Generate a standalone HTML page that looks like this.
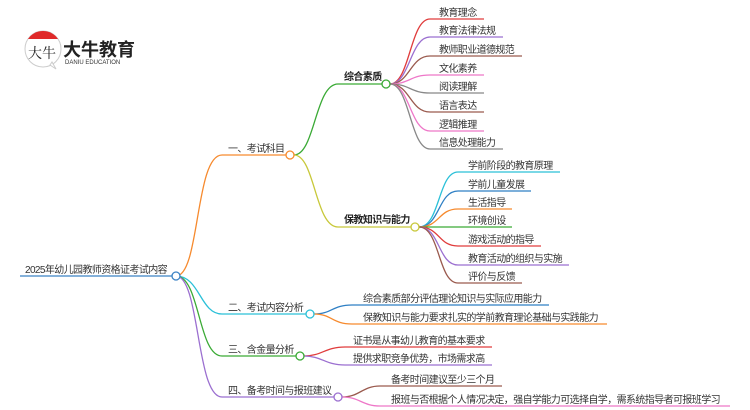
<!DOCTYPE html>
<html><head><meta charset="utf-8"><style>
html,body{margin:0;padding:0;background:#fff;}
svg{display:block;}
text{font-family:"Liberation Sans","Noto Sans CJK SC",sans-serif;font-size:10px;letter-spacing:-0.6px;fill:#333;}
.b{font-weight:bold;fill:#222;}
</style></head><body>
<svg width="750" height="410" viewBox="0 0 750 410" xmlns="http://www.w3.org/2000/svg">
<circle cx="43" cy="49" r="18" fill="#fff" stroke="#ccc" stroke-width="1"/>
<path d="M28 39 A18 18 0 0 1 58 39 Z" fill="#e02a2a"/>
<path d="M50 65 L56 69 L52 62 Z" fill="#fff" stroke="#ccc"/>
<text x="28" y="58" style="font-size:14px;letter-spacing:0;fill:#222;font-family:'Noto Serif CJK SC',serif">大牛</text>
<text x="63" y="56" style="font-size:18px;letter-spacing:0;font-weight:bold;fill:#222">大牛教育</text>
<text x="65" y="64" style="font-size:6px;letter-spacing:0;fill:#333">DANIU EDUCATION</text>

<g fill="none" stroke-width="1.3">
<path d="M20 276 H172" stroke="#3b82c4"/>
<path d="M176 276 C200 276,195 155,222 155 H286" stroke="#f68a2e"/>
<path d="M294 155 C315 155,315 84,338 84 H382" stroke="#3aaa35"/>
<path d="M294 155 C315 155,315 227,338 227 H411" stroke="#c8c83a"/>
<g>
<path d="M390 84 C410 84,410 19,430 19 H484" stroke="#e03c3c"/>
<path d="M390 84 C410 84,410 37,430 37 H503" stroke="#9b6fd0"/>
<path d="M390 84 C410 84,410 56,430 56 H522" stroke="#9a5a4e"/>
<path d="M390 84 C410 84,410 75,430 75 H484" stroke="#ee77c8"/>
<path d="M390 84 C410 84,410 93,430 93 H484" stroke="#888"/>
<path d="M390 84 C410 84,410 112,430 112 H484" stroke="#9a5a4e"/>
<path d="M390 84 C410 84,410 131,430 131 H484" stroke="#ee77c8"/>
<path d="M390 84 C410 84,410 149,430 149 H503" stroke="#888"/>
</g>
<g>
<path d="M419 227 C440 227,438 172,458 172 H560" stroke="#2bc0d8"/>
<path d="M419 227 C440 227,438 191,458 191 H531" stroke="#2e7fc4"/>
<path d="M419 227 C440 227,438 209,458 209 H512" stroke="#f68a2e"/>
<path d="M419 227 C440 227,438 227,458 227 H512" stroke="#3aaa35"/>
<path d="M419 227 C440 227,438 246,458 246 H541" stroke="#e03c3c"/>
<path d="M419 227 C440 227,438 265,458 265 H569" stroke="#9b6fd0"/>
<path d="M419 227 C440 227,438 283,458 283 H522" stroke="#9a5a4e"/>
</g>
<path d="M176 276 C200 276,200 314,222 314 H306" stroke="#2bc0d8"/>
<path d="M314 314 C332 314,332 305,352 305 H549" stroke="#2e7fc4"/>
<path d="M314 314 C332 314,332 324,352 324 H607" stroke="#f68a2e"/>
<path d="M176 276 C200 276,198 356,222 356 H296" stroke="#3aaa35"/>
<path d="M304 356 C322 356,325 347,345 347 H492" stroke="#e03c3c"/>
<path d="M304 356 C322 356,325 365,345 365 H492" stroke="#9b6fd0"/>
<path d="M176 276 C200 276,196 397,222 397 H334" stroke="#9b6fd0"/>
<path d="M342 397 C360 397,362 386,380 386 H502" stroke="#9a5a4e"/>
<path d="M342 397 C360 397,362 406,380 406 H730" stroke="#ee77c8"/>
</g>
<g fill="#fff" stroke-width="1.3">
<circle cx="176" cy="276" r="4" stroke="#3b82c4"/>
<circle cx="290" cy="155" r="4" stroke="#f68a2e"/>
<circle cx="386" cy="84" r="4" stroke="#3aaa35"/>
<circle cx="415" cy="227" r="4" stroke="#c8c83a"/>
<circle cx="310" cy="314" r="4" stroke="#2bc0d8"/>
<circle cx="300" cy="356" r="4" stroke="#3aaa35"/>
<circle cx="338" cy="397" r="4" stroke="#9b6fd0"/>
</g>
<text x="25" y="273">2025年幼儿园教师资格证考试内容</text>
<text x="228" y="152">一、考试科目</text>
<text class="b" x="344" y="80">综合素质</text>
<text class="b" x="344" y="223">保教知识与能力</text>
<text x="439" y="16">教育理念</text>
<text x="439" y="34">教育法律法规</text>
<text x="439" y="53">教师职业道德规范</text>
<text x="439" y="72">文化素养</text>
<text x="439" y="90">阅读理解</text>
<text x="439" y="109">语言表达</text>
<text x="439" y="128">逻辑推理</text>
<text x="439" y="146">信息处理能力</text>
<text x="468" y="169">学前阶段的教育原理</text>
<text x="468" y="188">学前儿童发展</text>
<text x="468" y="206">生活指导</text>
<text x="468" y="224">环境创设</text>
<text x="468" y="243">游戏活动的指导</text>
<text x="468" y="262">教育活动的组织与实施</text>
<text x="468" y="280">评价与反馈</text>
<text x="228" y="311">二、考试内容分析</text>
<text x="363" y="302">综合素质部分评估理论知识与实际应用能力</text>
<text x="363" y="321">保教知识与能力要求扎实的学前教育理论基础与实践能力</text>
<text x="228" y="353">三、含金量分析</text>
<text x="353" y="344">证书是从事幼儿教育的基本要求</text>
<text x="353" y="362">提供求职竞争优势，市场需求高</text>
<text x="228" y="394">四、备考时间与报班建议</text>
<text x="391" y="383">备考时间建议至少三个月</text>
<text x="391" y="403">报班与否根据个人情况决定，强自学能力可选择自学，需系统指导者可报班学习</text>
</svg>
</body></html>
